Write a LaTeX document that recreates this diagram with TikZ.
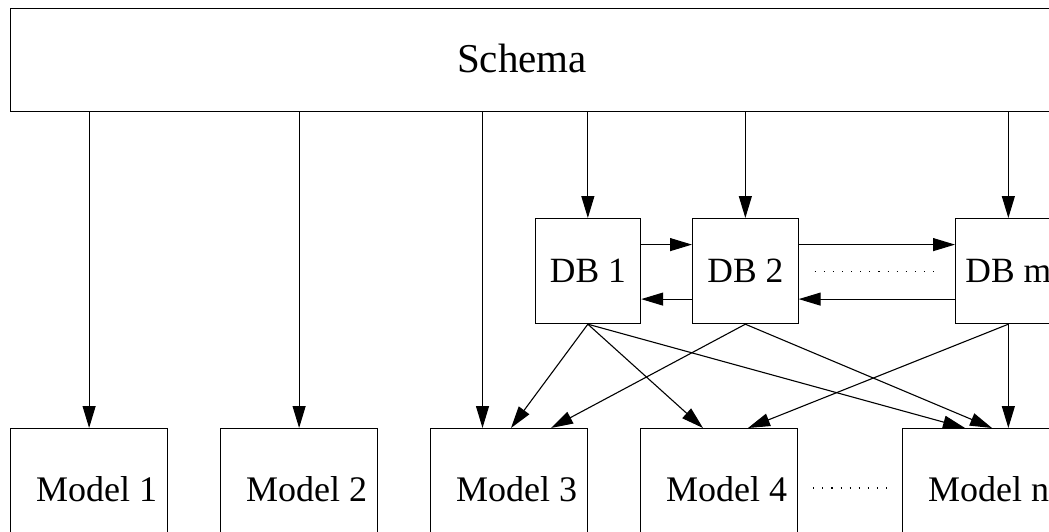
\documentclass[tikz,border=0pt]{standalone}
\usepackage{fontspec}
\setmainfont{Liberation Serif}
\usetikzlibrary{arrows.meta,calc}
\begin{document}
\begin{tikzpicture}[x=1pt,y=-1pt,
  box/.style={draw,line width=1.2pt,inner sep=0pt,anchor=north west},
  dbbox/.style={box,minimum width=105.5pt,minimum height=105pt,font=\fontsize{35.5}{42}\selectfont},
  modelbox/.style={box,minimum width=157pt,minimum height=110pt},
  modeltext/.style={anchor=base west,inner sep=0pt,font=\fontsize{36}{43}\selectfont},
  conn/.style={line width=1.1pt,-{Triangle[length=22pt,width=13pt]}},
  dotline/.style={line width=1.1pt,dash pattern=on 1.1pt off 8pt}]
\useasboundingbox (0,0) rectangle (1049,532);
\clip (0,0) rectangle (1049,532);

% boxes
\node[box,minimum width=1100pt,minimum height=103pt] (schema) at (10,8) {};
\node[anchor=base,inner sep=0pt,font=\fontsize{41}{49}\selectfont] (schematext) at (522,73) {Schema};

\node[dbbox] (db1) at (534.5,218) {DB 1};
\node[dbbox] (db2) at (692,218) {DB 2};
\node[dbbox] (dbm) at (955,218) {DB m};

\node[modelbox] (m1) at (10,428) {};
\node[modelbox] (m2) at (220,428) {};
\node[modelbox] (m3) at (430,428) {};
\node[modelbox] (m4) at (640,428) {};
\node[modelbox] (mn) at (902,428) {};

\node[modeltext] (t1) at ($(m1.north west)+(26,73)$) {Model 1};
\node[modeltext] (t2) at ($(m2.north west)+(26,73)$) {Model 2};
\node[modeltext] (t3) at ($(m3.north west)+(26,73)$) {Model 3};
\node[modeltext] (t4) at ($(m4.north west)+(26,73)$) {Model 4};
\node[modeltext] (tn) at ($(mn.north west)+(26,73)$) {Model n};

% schema to models and dbs
\coordinate (a3) at ($(m3.north west)+(52.5,0)$);
\draw[conn] (m1.north |- schema.south) -- (m1.north);
\draw[conn] (m2.north |- schema.south) -- (m2.north);
\draw[conn] (a3 |- schema.south) -- (a3);
\draw[conn] (db1.north |- schema.south) -- (db1.north);
\draw[conn] (db2.north |- schema.south) -- (db2.north);
\draw[conn] (dbm.north |- schema.south) -- (dbm.north);

% db to db
\draw[conn] ($(db1.east)+(0,-26.5)$) -- ($(db2.west)+(0,-26.5)$);
\draw[conn] ($(db2.west)+(0,28)$) -- ($(db1.east)+(0,28)$);
\draw[conn] ($(db2.east)+(0,-26.5)$) -- ($(dbm.west)+(0,-26.5)$);
\draw[conn] ($(dbm.west)+(0,28)$) -- ($(db2.east)+(0,28)$);
\draw[dotline] ($(db2.east)+(16,0)$) -- ($(dbm.west)+(-13,0)$);

% db to models
\draw[conn] (db1.south) -- ($(m3.north west)+(81,0)$);
\draw[conn] (db1.south) -- ($(m4.north west)+(63,0)$);
\draw[conn] (db1.south) -- ($(mn.north west)+(63,0)$);
\draw[conn] (db2.south) -- ($(m3.north west)+(121,0)$);
\draw[conn] (db2.south) -- ($(mn.north west)+(90,0)$);
\draw[conn] (dbm.south) -- ($(m4.north west)+(108,0)$);
\draw[conn] (dbm.south) -- (dbm.south |- mn.north);

\draw[dotline] ($(m4.north east)+(15,60)$) -- ($(mn.north west)+(-13,60)$);
\end{tikzpicture}
\end{document}
